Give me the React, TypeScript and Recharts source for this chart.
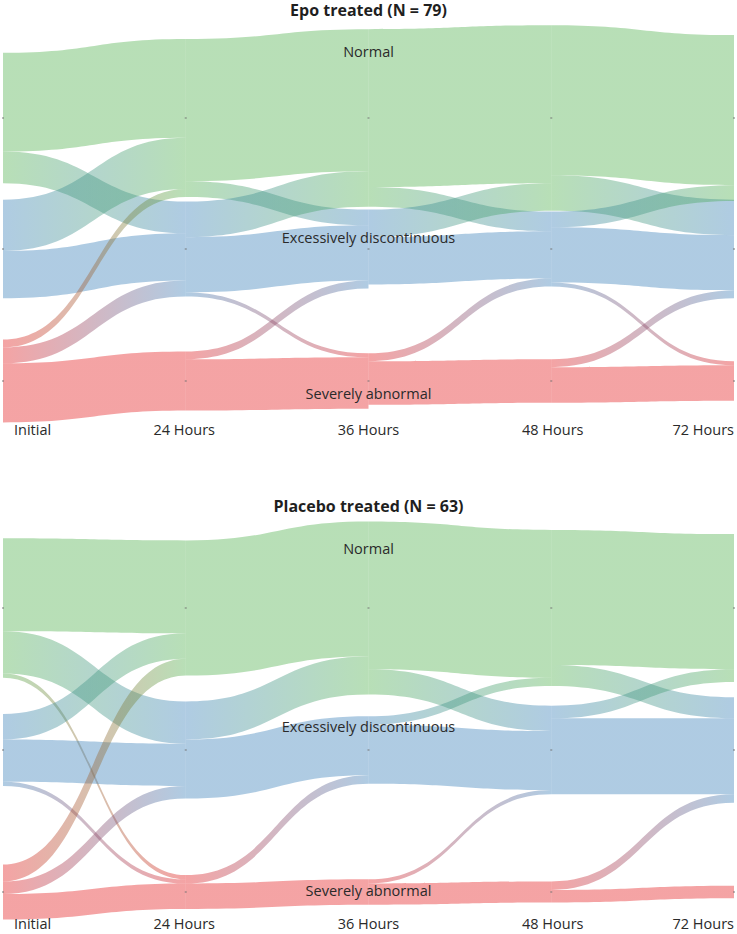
import { Sankey } from 'recharts'

const states = ['Normal', 'Excessively discontinuous', 'Severely abnormal']
const timepoints = ['Initial', '24 Hours', '36 Hours', '48 Hours', '72 Hours']
const stateColors = ['#4daf4a', '#377eb8', '#e41a1c']

// patients moving between two time points
// rows = state before, columns = state after (normal, excessive, severe)
const epoInitialTo24 = [
  [25, 8, 0],
  [13, 12, 0],
  [2, 4, 15],
]
const epo24To36 = [
  [36, 4, 0],
  [9, 14, 1],
  [0, 2, 13],
]
const epo36To48 = [
  [40, 5, 0],
  [7, 12, 0],
  [0, 2, 11],
]
const epo48To72 = [
  [38, 9, 0],
  [4, 14, 1],
  [0, 2, 9],
]

const placeboInitialTo24 = [
  [22, 10, 1],
  [6, 10, 1],
  [4, 3, 6],
]
const placebo24To36 = [
  [32, 0, 0],
  [9, 14, 0],
  [0, 2, 6],
]
const placebo36To48 = [
  [35, 6, 0],
  [2, 14, 0],
  [0, 1, 5],
]
const placebo48To72 = [
  [32, 5, 0],
  [3, 18, 0],
  [0, 2, 3],
]

const WIDTH = 737
const FONT = '"Open Sans", sans-serif'

function buildData(steps: number[][][]) {
  const nodes = timepoints.flatMap((time, col) =>
    states.map((state, row) => ({ name: `${state} (${time})`, row, col })),
  )
  const links: { source: number; target: number; value: number }[] = []
  steps.forEach((matrix, step) =>
    matrix.forEach((counts, from) =>
      counts.forEach((value, to) => {
        if (value > 0) {
          links.push({ source: step * 3 + from, target: (step + 1) * 3 + to, value })
        }
      }),
    ),
  )
  return { nodes, links }
}

// nodes sit on fixed rows, centred on the row line
function shiftOf(node: any, rows: number[]) {
  return rows[node.row] - (node.y + node.dy / 2)
}

function FlowLink(props: any) {
  const {
    sourceX,
    targetX,
    sourceY,
    targetY,
    sourceControlX,
    targetControlX,
    linkWidth,
    index,
    payload,
    rows,
    panel,
  } = props
  const from = payload.source
  const to = payload.target
  const y0 = sourceY + shiftOf(from, rows)
  const y1 = targetY + shiftOf(to, rows)
  const h = linkWidth / 2
  const d =
    `M${sourceX},${y0 - h} C${sourceControlX},${y0 - h} ${targetControlX},${y1 - h} ${targetX},${y1 - h}` +
    ` L${targetX},${y1 + h} C${targetControlX},${y1 + h} ${sourceControlX},${y0 + h} ${sourceX},${y0 + h} Z`
  const id = `${panel}-flow-${index}`
  return (
    <g>
      <defs>
        <linearGradient id={id} gradientUnits="userSpaceOnUse" x1={sourceX} y1={0} x2={targetX} y2={0}>
          <stop offset="0%" stopColor={stateColors[from.row]} stopOpacity={0.4} />
          <stop offset="100%" stopColor={stateColors[to.row]} stopOpacity={0.4} />
        </linearGradient>
      </defs>
      <path d={d} fill={`url(#${id})`} stroke="none" />
    </g>
  )
}

function NodeDot(props: any) {
  const { x, width, payload, rows } = props
  return (
    <rect
      x={x + width / 2 - 1}
      y={rows[payload.row] - 1}
      width={2}
      height={2}
      fill="#6b6b6b"
      fillOpacity={0.45}
    />
  )
}

type PanelProps = {
  id: string
  title: string
  steps: number[][][]
  top: number
  height: number
  layoutHeight: number
  rows: number[]
  titleY: number
  labelYs: number[]
  axisY: number
}

function Panel({ id, title, steps, top, height, layoutHeight, rows, titleY, labelYs, axisY }: PanelProps) {
  const data = buildData(steps)
  const colX = (i: number) => (i / (timepoints.length - 1)) * WIDTH

  return (
    <div style={{ position: 'absolute', left: 0, top, width: WIDTH, height }}>
      <Sankey
        width={WIDTH}
        height={height}
        data={data}
        nodeWidth={0}
        nodePadding={0}
        iterations={0}
        sort={false}
        margin={{ top: 0, right: 3, bottom: height - layoutHeight, left: 3 }}
        link={(p: any) => <FlowLink {...p} rows={rows} panel={id} />}
        node={(p: any) => <NodeDot {...p} rows={rows} />}
      />
      <svg
        width={WIDTH}
        height={height}
        style={{ position: 'absolute', left: 0, top: 0, pointerEvents: 'none', fontFamily: FONT }}
      >
        <text x={WIDTH / 2} y={titleY} textAnchor="middle" fontSize={16} fontWeight={700} fill="#1f1f1f">
          {title}
        </text>
        {states.map((state, i) => (
          <text key={state} x={WIDTH / 2} y={labelYs[i]} textAnchor="middle" fontSize={14.5} fill="#2a2a2a">
            {state}
          </text>
        ))}
        {timepoints.map((time, i) => {
          const last = i === timepoints.length - 1
          const anchor = i === 0 ? 'start' : last ? 'end' : 'middle'
          const x = i === 0 ? 14 : last ? WIDTH - 3 : colX(i)
          return (
            <text key={time} x={x} y={axisY} textAnchor={anchor} fontSize={14.5} fill="#2a2a2a">
              {time}
            </text>
          )
        })}
      </svg>
    </div>
  )
}

export default function App() {
  return (
    <div
      style={{
        position: 'absolute',
        left: 0,
        top: 0,
        width: WIDTH,
        height: 934,
        background: '#fff',
        fontFamily: FONT,
      }}
    >
      <Panel
        id="epo"
        title="Epo treated (N = 79)"
        steps={[epoInitialTo24, epo24To36, epo36To48, epo48To72]}
        top={0}
        height={440}
        layoutHeight={312}
        rows={[118, 249, 381]}
        titleY={16}
        labelYs={[57, 243, 399]}
        axisY={435}
      />
      <Panel
        id="placebo"
        title="Placebo treated (N = 63)"
        steps={[placeboInitialTo24, placebo24To36, placebo36To48, placebo48To72]}
        top={468}
        height={466}
        layoutHeight={266}
        rows={[140, 282, 424]}
        titleY={44}
        labelYs={[86, 264, 428]}
        axisY={461}
      />
    </div>
  )
}
